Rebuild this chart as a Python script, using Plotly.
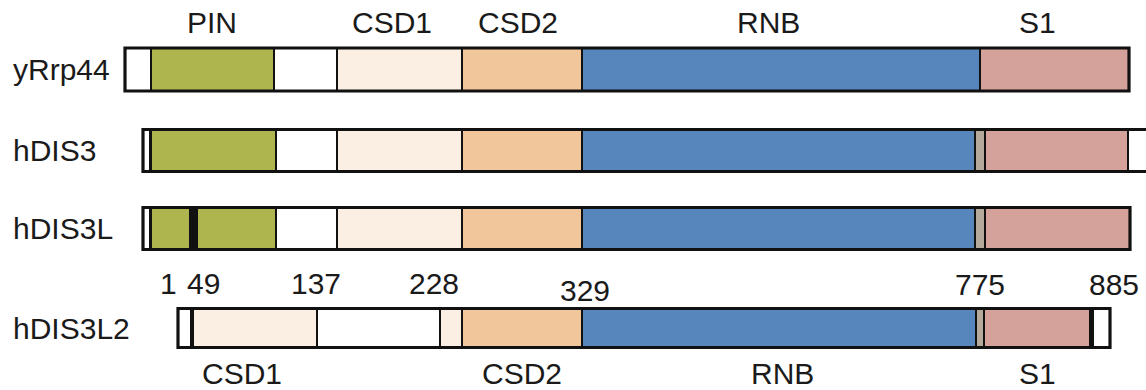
"""Domain architecture of Rrp44 / DIS3 family proteins"""
import plotly.graph_objects as go

# protein names (one row each, top to bottom)
proteins = ["yRrp44", "hDIS3", "hDIS3L", "hDIS3L2"]

# segment edges along the schematic (diagram units) and the domain of each segment
yrrp44_edges = [125, 151, 274, 337, 462, 582, 980, 1129]
yrrp44_domains = ["none", "PIN", "none", "CSD1", "CSD2", "RNB", "S1"]

hdis3_edges = [143, 150, 151, 276, 337, 462, 582, 975, 985, 1128, 1160]
hdis3_domains = ["none", "mark", "PIN", "none", "CSD1", "CSD2", "RNB", "linker", "S1", "none"]

hdis3l_edges = [143, 150, 151, 190, 197, 276, 337, 462, 582, 975, 985, 1130]
hdis3l_domains = ["none", "mark", "PIN", "mark", "PIN", "none", "CSD1", "CSD2", "RNB", "linker", "S1"]

hdis3l2_edges = [178, 191, 193, 317, 440, 462, 582, 976, 984, 1090, 1093, 1110]
hdis3l2_domains = ["none", "mark", "CSD1", "none", "CSD1", "CSD2", "RNB", "linker", "S1", "mark", "none"]

# domain names written above the first row and below the last row
top_labels = ["PIN", "CSD1", "CSD2", "RNB", "S1"]
bottom_labels = ["CSD1", "CSD2", "RNB", "S1"]

# residue numbers marked on hDIS3L2
residue_numbers = ["1", "49", "137", "228", "329", "775", "885"]

# ---- styles / layout -------------------------------------------------------
W, H = 1146, 390
FONT = "Liberation Sans, Arial, sans-serif"
TEXT = "#1a1a1a"
COLORS = {
    "none": "#ffffff",
    "PIN": "#aeb54f",
    "CSD1": "#fbeee3",
    "CSD2": "#f2c69b",
    "RNB": "#5686bb",
    "S1": "#d4a29b",
    "linker": "#b5a99b",
    "mark": "#111111",
}
row_center = [69.5, 150.5, 228.5, 328]
row_height = [43, 42, 42, 39]
top_label_x = [212, 392, 518, 768, 1037]
bottom_label_x = [242, 522, 782, 1037]
residue_x = [168, 203, 316, 434, 585, 980, 1114]
residue_y = [283, 283, 283, 283, 290, 284, 284]

rows = [
    (yrrp44_edges, yrrp44_domains),
    (hdis3_edges, hdis3_domains),
    (hdis3l_edges, hdis3l_domains),
    (hdis3l2_edges, hdis3l2_domains),
]

fig = go.Figure()

for i, (edges, domains) in enumerate(rows):
    starts = edges[:-1]
    widths = [b - a for a, b in zip(edges[:-1], edges[1:])]
    fig.add_trace(go.Bar(
        orientation="h",
        y=[row_center[i]] * len(starts),
        x=widths,
        base=starts,
        width=row_height[i],
        marker=dict(color=[COLORS[d] for d in domains],
                    line=dict(color="#111111", width=2)),
        hoverinfo="skip",
    ))
    # heavy outline round the whole protein
    fig.add_trace(go.Bar(
        orientation="h",
        y=[row_center[i]],
        x=[edges[-1] - edges[0]],
        base=[edges[0]],
        width=row_height[i],
        marker=dict(color="rgba(0,0,0,0)", line=dict(color="#111111", width=3.2)),
        hoverinfo="skip",
    ))

annotations = []
for name, y in zip(proteins, row_center):
    annotations.append(dict(x=12, y=y, text=name, xanchor="left", yanchor="middle"))
for lab, x in zip(top_labels, top_label_x):
    annotations.append(dict(x=x, y=22, text=lab, xanchor="center", yanchor="middle"))
for lab, x in zip(bottom_labels, bottom_label_x):
    annotations.append(dict(x=x, y=373, text=lab, xanchor="center", yanchor="middle"))
for lab, x, y in zip(residue_numbers, residue_x, residue_y):
    annotations.append(dict(x=x, y=y, text=lab, xanchor="center", yanchor="middle"))
for a in annotations:
    a.update(xref="x", yref="y", showarrow=False, borderpad=0,
             font=dict(family=FONT, size=30, color=TEXT))

fig.update_layout(
    width=W, height=H,
    margin=dict(l=0, r=0, t=0, b=0),
    paper_bgcolor="white", plot_bgcolor="white",
    showlegend=False,
    barmode="overlay",
    annotations=annotations,
    xaxis=dict(range=[0, W], visible=False, fixedrange=True),
    yaxis=dict(range=[H, 0], visible=False, fixedrange=True),
)

# drop the page's default body margin so the figure sits at the window corner
fig.write_html("out.html", config={"displayModeBar": False},
               post_script="document.body.style.margin='0';")
